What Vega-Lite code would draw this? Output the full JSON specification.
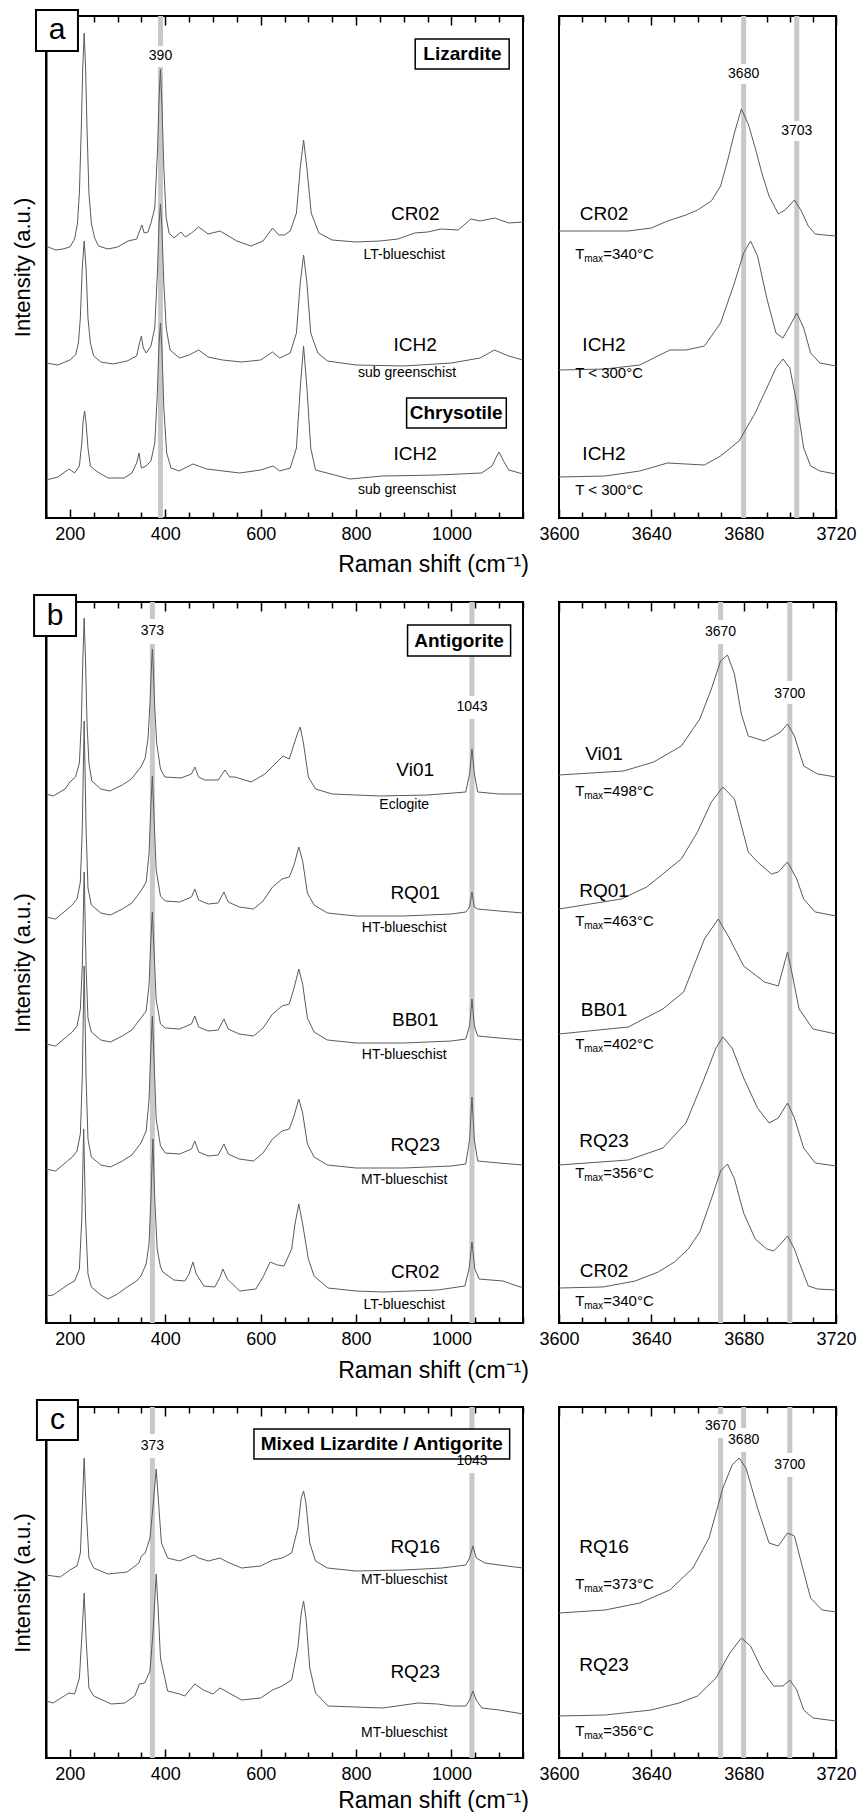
{
"$schema": "https://vega.github.io/schema/vega-lite/v6.json",
"background": "white",
"padding": {"left": 10, "top": 8, "right": 5, "bottom": 40},
"config": {
  "view": {"stroke": "black", "strokeWidth": 2},
  "axis": {"grid": false, "labelFont": "Liberation Sans", "titleFont": "Liberation Sans", "labelColor": "black", "titleColor": "black", "tickColor": "black"},
  "text": {"font": "Liberation Sans", "color": "black"}
},
"datasets": {
  "aL_rules": [{"x":390,"y1":472,"y2":502},{"x":390,"y1":0,"y2":451}],
  "aR_rules": [{"x":3680,"y1":454,"y2":502},{"x":3680,"y1":0,"y2":434},{"x":3703,"y1":397,"y2":502},{"x":3703,"y1":0,"y2":377}],
  "bL_rules": [{"x":373,"y1":704,"y2":721},{"x":373,"y1":0,"y2":679},{"x":1043,"y1":627,"y2":721},{"x":1043,"y1":0,"y2":604}],
  "bR_rules": [{"x":3670,"y1":703,"y2":721},{"x":3670,"y1":0,"y2":679},{"x":3700,"y1":642,"y2":721},{"x":3700,"y1":0,"y2":619}],
  "cL_rules": [{"x":373,"y1":324,"y2":351},{"x":373,"y1":0,"y2":300},{"x":1043,"y1":309,"y2":351},{"x":1043,"y1":0,"y2":285}],
  "cR_rules": [{"x":3670,"y1":344,"y2":351},{"x":3670,"y1":0,"y2":320},{"x":3680,"y1":330,"y2":351},{"x":3680,"y1":0,"y2":306},{"x":3700,"y1":305,"y2":351},{"x":3700,"y1":0,"y2":281}],
  "aL_lines": [
    {"s":"CR02","x":150,"y":272},{"s":"CR02","x":160,"y":270},{"s":"CR02","x":170,"y":268},{"s":"CR02","x":185,"y":269},{"s":"CR02","x":200,"y":271},{"s":"CR02","x":210,"y":279},{"s":"CR02","x":216,"y":295},{"s":"CR02","x":220,"y":325},{"s":"CR02","x":224,"y":390},{"s":"CR02","x":227,"y":450},{"s":"CR02","x":230,"y":485},{"s":"CR02","x":233,"y":450},{"s":"CR02","x":236,"y":390},{"s":"CR02","x":240,"y":325},{"s":"CR02","x":245,"y":295},{"s":"CR02","x":252,"y":280},{"s":"CR02","x":260,"y":272},{"s":"CR02","x":280,"y":269},{"s":"CR02","x":300,"y":271},{"s":"CR02","x":322,"y":277},{"s":"CR02","x":340,"y":279},{"s":"CR02","x":351,"y":293},{"s":"CR02","x":356,"y":285},{"s":"CR02","x":364,"y":286},{"s":"CR02","x":370,"y":295},{"s":"CR02","x":378,"y":310},{"s":"CR02","x":384,"y":370},{"s":"CR02","x":387,"y":420},{"s":"CR02","x":390,"y":449},{"s":"CR02","x":393,"y":415},{"s":"CR02","x":397,"y":350},{"s":"CR02","x":402,"y":300},{"s":"CR02","x":408,"y":285},{"s":"CR02","x":418,"y":280},{"s":"CR02","x":433,"y":286},{"s":"CR02","x":442,"y":281},{"s":"CR02","x":455,"y":285},{"s":"CR02","x":470,"y":291},{"s":"CR02","x":490,"y":284},{"s":"CR02","x":515,"y":287},{"s":"CR02","x":550,"y":277},{"s":"CR02","x":580,"y":272},{"s":"CR02","x":605,"y":277},{"s":"CR02","x":625,"y":290},{"s":"CR02","x":638,"y":283},{"s":"CR02","x":650,"y":283},{"s":"CR02","x":662,"y":287},{"s":"CR02","x":675,"y":305},{"s":"CR02","x":683,"y":350},{"s":"CR02","x":690,"y":378},{"s":"CR02","x":697,"y":350},{"s":"CR02","x":706,"y":305},{"s":"CR02","x":722,"y":285},{"s":"CR02","x":750,"y":278},{"s":"CR02","x":800,"y":276},{"s":"CR02","x":850,"y":277},{"s":"CR02","x":888,"y":279},{"s":"CR02","x":923,"y":285},{"s":"CR02","x":950,"y":286},{"s":"CR02","x":978,"y":289},{"s":"CR02","x":1014,"y":288},{"s":"CR02","x":1041,"y":299},{"s":"CR02","x":1060,"y":297},{"s":"CR02","x":1091,"y":300},{"s":"CR02","x":1120,"y":295},{"s":"CR02","x":1150,"y":296},
    {"s":"L","x":150,"y":155},{"s":"L","x":175,"y":153},{"s":"L","x":200,"y":158},{"s":"L","x":212,"y":163},{"s":"L","x":218,"y":175},{"s":"L","x":222,"y":200},{"s":"L","x":226,"y":250},{"s":"L","x":230,"y":277},{"s":"L","x":234,"y":250},{"s":"L","x":238,"y":200},{"s":"L","x":243,"y":175},{"s":"L","x":250,"y":162},{"s":"L","x":265,"y":156},{"s":"L","x":290,"y":154},{"s":"L","x":320,"y":157},{"s":"L","x":340,"y":162},{"s":"L","x":346,"y":175},{"s":"L","x":350,"y":182},{"s":"L","x":354,"y":170},{"s":"L","x":360,"y":165},{"s":"L","x":370,"y":172},{"s":"L","x":378,"y":190},{"s":"L","x":384,"y":250},{"s":"L","x":387,"y":295},{"s":"L","x":390,"y":314},{"s":"L","x":393,"y":290},{"s":"L","x":397,"y":235},{"s":"L","x":402,"y":190},{"s":"L","x":410,"y":168},{"s":"L","x":430,"y":160},{"s":"L","x":450,"y":163},{"s":"L","x":470,"y":168},{"s":"L","x":490,"y":161},{"s":"L","x":520,"y":158},{"s":"L","x":560,"y":156},{"s":"L","x":600,"y":158},{"s":"L","x":625,"y":166},{"s":"L","x":640,"y":160},{"s":"L","x":662,"y":165},{"s":"L","x":675,"y":185},{"s":"L","x":683,"y":235},{"s":"L","x":690,"y":263},{"s":"L","x":697,"y":235},{"s":"L","x":705,"y":185},{"s":"L","x":720,"y":165},{"s":"L","x":740,"y":157},{"s":"L","x":800,"y":153},{"s":"L","x":900,"y":152},{"s":"L","x":1000,"y":155},{"s":"L","x":1060,"y":160},{"s":"L","x":1090,"y":168},{"s":"L","x":1120,"y":162},{"s":"L","x":1150,"y":158},
    {"s":"C","x":150,"y":38},{"s":"C","x":175,"y":41},{"s":"C","x":198,"y":49},{"s":"C","x":210,"y":45},{"s":"C","x":220,"y":52},{"s":"C","x":225,"y":75},{"s":"C","x":228,"y":98},{"s":"C","x":231,"y":107},{"s":"C","x":234,"y":95},{"s":"C","x":238,"y":70},{"s":"C","x":243,"y":52},{"s":"C","x":255,"y":47},{"s":"C","x":280,"y":40},{"s":"C","x":314,"y":40},{"s":"C","x":330,"y":45},{"s":"C","x":340,"y":55},{"s":"C","x":345,"y":65},{"s":"C","x":350,"y":50},{"s":"C","x":360,"y":52},{"s":"C","x":370,"y":57},{"s":"C","x":378,"y":75},{"s":"C","x":383,"y":120},{"s":"C","x":387,"y":175},{"s":"C","x":390,"y":195},{"s":"C","x":393,"y":170},{"s":"C","x":397,"y":110},{"s":"C","x":403,"y":65},{"s":"C","x":412,"y":50},{"s":"C","x":429,"y":47},{"s":"C","x":458,"y":54},{"s":"C","x":487,"y":49},{"s":"C","x":556,"y":45},{"s":"C","x":600,"y":48},{"s":"C","x":626,"y":52},{"s":"C","x":640,"y":47},{"s":"C","x":662,"y":50},{"s":"C","x":675,"y":70},{"s":"C","x":683,"y":130},{"s":"C","x":690,"y":172},{"s":"C","x":697,"y":130},{"s":"C","x":705,"y":70},{"s":"C","x":715,"y":48},{"s":"C","x":787,"y":39},{"s":"C","x":856,"y":42},{"s":"C","x":971,"y":43},{"s":"C","x":1063,"y":45},{"s":"C","x":1085,"y":52},{"s":"C","x":1095,"y":62},{"s":"C","x":1100,"y":66},{"s":"C","x":1108,"y":58},{"s":"C","x":1120,"y":48},{"s":"C","x":1135,"y":46},{"s":"C","x":1150,"y":44}
  ],
  "aR_lines": [
    {"s":"CR02","x":3600,"y":287},{"s":"CR02","x":3615,"y":287},{"s":"CR02","x":3630,"y":287},{"s":"CR02","x":3640,"y":290},{"s":"CR02","x":3647,"y":297},{"s":"CR02","x":3655,"y":303},{"s":"CR02","x":3660,"y":308},{"s":"CR02","x":3666,"y":317},{"s":"CR02","x":3670,"y":332},{"s":"CR02","x":3673,"y":357},{"s":"CR02","x":3676,"y":385},{"s":"CR02","x":3679,"y":409},{"s":"CR02","x":3682,"y":394},{"s":"CR02","x":3685,"y":370},{"s":"CR02","x":3688,"y":344},{"s":"CR02","x":3691,"y":322},{"s":"CR02","x":3695,"y":304},{"s":"CR02","x":3698,"y":308},{"s":"CR02","x":3702,"y":318},{"s":"CR02","x":3705,"y":307},{"s":"CR02","x":3708,"y":292},{"s":"CR02","x":3711,"y":284},{"s":"CR02","x":3715,"y":283},{"s":"CR02","x":3720,"y":282},
    {"s":"L","x":3600,"y":148},{"s":"L","x":3620,"y":149},{"s":"L","x":3635,"y":153},{"s":"L","x":3648,"y":168},{"s":"L","x":3655,"y":168},{"s":"L","x":3663,"y":172},{"s":"L","x":3670,"y":195},{"s":"L","x":3676,"y":235},{"s":"L","x":3680,"y":265},{"s":"L","x":3683,"y":277},{"s":"L","x":3686,"y":262},{"s":"L","x":3690,"y":220},{"s":"L","x":3694,"y":185},{"s":"L","x":3697,"y":180},{"s":"L","x":3700,"y":192},{"s":"L","x":3703,"y":205},{"s":"L","x":3706,"y":190},{"s":"L","x":3709,"y":165},{"s":"L","x":3713,"y":155},{"s":"L","x":3720,"y":152},
    {"s":"C","x":3600,"y":41},{"s":"C","x":3620,"y":42},{"s":"C","x":3635,"y":47},{"s":"C","x":3647,"y":55},{"s":"C","x":3655,"y":54},{"s":"C","x":3663,"y":53},{"s":"C","x":3670,"y":62},{"s":"C","x":3678,"y":77},{"s":"C","x":3685,"y":105},{"s":"C","x":3690,"y":130},{"s":"C","x":3694,"y":150},{"s":"C","x":3697,"y":159},{"s":"C","x":3700,"y":150},{"s":"C","x":3703,"y":115},{"s":"C","x":3706,"y":70},{"s":"C","x":3709,"y":52},{"s":"C","x":3713,"y":47},{"s":"C","x":3720,"y":44}
  ],
  "bL_lines": [
    {"s":"Vi01","x":150,"y":529},{"s":"Vi01","x":165,"y":527},{"s":"Vi01","x":190,"y":534},{"s":"Vi01","x":200,"y":541},{"s":"Vi01","x":212,"y":546},{"s":"Vi01","x":220,"y":560},{"s":"Vi01","x":224,"y":600},{"s":"Vi01","x":227,"y":660},{"s":"Vi01","x":230,"y":705},{"s":"Vi01","x":233,"y":660},{"s":"Vi01","x":236,"y":600},{"s":"Vi01","x":240,"y":560},{"s":"Vi01","x":246,"y":542},{"s":"Vi01","x":265,"y":534},{"s":"Vi01","x":284,"y":532},{"s":"Vi01","x":310,"y":538},{"s":"Vi01","x":329,"y":544},{"s":"Vi01","x":349,"y":556},{"s":"Vi01","x":358,"y":565},{"s":"Vi01","x":364,"y":585},{"s":"Vi01","x":368,"y":620},{"s":"Vi01","x":371,"y":655},{"s":"Vi01","x":373,"y":674},{"s":"Vi01","x":375,"y":655},{"s":"Vi01","x":378,"y":615},{"s":"Vi01","x":382,"y":580},{"s":"Vi01","x":390,"y":554},{"s":"Vi01","x":399,"y":546},{"s":"Vi01","x":433,"y":545},{"s":"Vi01","x":455,"y":549},{"s":"Vi01","x":462,"y":556},{"s":"Vi01","x":470,"y":546},{"s":"Vi01","x":483,"y":543},{"s":"Vi01","x":511,"y":543},{"s":"Vi01","x":525,"y":553},{"s":"Vi01","x":535,"y":546},{"s":"Vi01","x":546,"y":546},{"s":"Vi01","x":580,"y":541},{"s":"Vi01","x":609,"y":549},{"s":"Vi01","x":630,"y":559},{"s":"Vi01","x":647,"y":567},{"s":"Vi01","x":660,"y":564},{"s":"Vi01","x":670,"y":579},{"s":"Vi01","x":677,"y":589},{"s":"Vi01","x":683,"y":596},{"s":"Vi01","x":690,"y":579},{"s":"Vi01","x":700,"y":546},{"s":"Vi01","x":715,"y":534},{"s":"Vi01","x":750,"y":529},{"s":"Vi01","x":850,"y":527},{"s":"Vi01","x":950,"y":528},{"s":"Vi01","x":1030,"y":531},{"s":"Vi01","x":1038,"y":549},{"s":"Vi01","x":1043,"y":574},{"s":"Vi01","x":1048,"y":549},{"s":"Vi01","x":1055,"y":531},{"s":"Vi01","x":1100,"y":529},{"s":"Vi01","x":1150,"y":529},
    {"s":"RQ01","x":150,"y":406},{"s":"RQ01","x":170,"y":404},{"s":"RQ01","x":195,"y":414},{"s":"RQ01","x":205,"y":418},{"s":"RQ01","x":215,"y":424},{"s":"RQ01","x":222,"y":441},{"s":"RQ01","x":226,"y":494},{"s":"RQ01","x":230,"y":602},{"s":"RQ01","x":234,"y":494},{"s":"RQ01","x":238,"y":435},{"s":"RQ01","x":245,"y":418},{"s":"RQ01","x":265,"y":410},{"s":"RQ01","x":285,"y":408},{"s":"RQ01","x":310,"y":414},{"s":"RQ01","x":330,"y":420},{"s":"RQ01","x":349,"y":432},{"s":"RQ01","x":360,"y":441},{"s":"RQ01","x":366,"y":469},{"s":"RQ01","x":370,"y":519},{"s":"RQ01","x":373,"y":547},{"s":"RQ01","x":376,"y":512},{"s":"RQ01","x":381,"y":453},{"s":"RQ01","x":390,"y":427},{"s":"RQ01","x":400,"y":422},{"s":"RQ01","x":430,"y":421},{"s":"RQ01","x":455,"y":426},{"s":"RQ01","x":462,"y":434},{"s":"RQ01","x":470,"y":423},{"s":"RQ01","x":490,"y":419},{"s":"RQ01","x":511,"y":420},{"s":"RQ01","x":523,"y":431},{"s":"RQ01","x":532,"y":421},{"s":"RQ01","x":555,"y":416},{"s":"RQ01","x":585,"y":414},{"s":"RQ01","x":605,"y":422},{"s":"RQ01","x":625,"y":436},{"s":"RQ01","x":645,"y":444},{"s":"RQ01","x":660,"y":446},{"s":"RQ01","x":670,"y":458},{"s":"RQ01","x":680,"y":476},{"s":"RQ01","x":688,"y":462},{"s":"RQ01","x":698,"y":430},{"s":"RQ01","x":712,"y":418},{"s":"RQ01","x":740,"y":410},{"s":"RQ01","x":800,"y":407},{"s":"RQ01","x":900,"y":407},{"s":"RQ01","x":1000,"y":409},{"s":"RQ01","x":1030,"y":411},{"s":"RQ01","x":1038,"y":416},{"s":"RQ01","x":1043,"y":431},{"s":"RQ01","x":1048,"y":416},{"s":"RQ01","x":1055,"y":414},{"s":"RQ01","x":1100,"y":412},{"s":"RQ01","x":1150,"y":410},
    {"s":"BB01","x":150,"y":279},{"s":"BB01","x":170,"y":277},{"s":"BB01","x":195,"y":287},{"s":"BB01","x":205,"y":291},{"s":"BB01","x":215,"y":297},{"s":"BB01","x":222,"y":314},{"s":"BB01","x":226,"y":356},{"s":"BB01","x":230,"y":451},{"s":"BB01","x":234,"y":356},{"s":"BB01","x":238,"y":305},{"s":"BB01","x":245,"y":291},{"s":"BB01","x":265,"y":283},{"s":"BB01","x":285,"y":281},{"s":"BB01","x":310,"y":287},{"s":"BB01","x":330,"y":293},{"s":"BB01","x":349,"y":305},{"s":"BB01","x":360,"y":312},{"s":"BB01","x":366,"y":338},{"s":"BB01","x":370,"y":385},{"s":"BB01","x":373,"y":411},{"s":"BB01","x":376,"y":378},{"s":"BB01","x":381,"y":323},{"s":"BB01","x":390,"y":299},{"s":"BB01","x":400,"y":295},{"s":"BB01","x":430,"y":294},{"s":"BB01","x":455,"y":299},{"s":"BB01","x":462,"y":307},{"s":"BB01","x":470,"y":296},{"s":"BB01","x":490,"y":292},{"s":"BB01","x":511,"y":293},{"s":"BB01","x":523,"y":304},{"s":"BB01","x":532,"y":294},{"s":"BB01","x":555,"y":289},{"s":"BB01","x":585,"y":287},{"s":"BB01","x":605,"y":295},{"s":"BB01","x":625,"y":309},{"s":"BB01","x":645,"y":317},{"s":"BB01","x":660,"y":319},{"s":"BB01","x":670,"y":335},{"s":"BB01","x":680,"y":354},{"s":"BB01","x":688,"y":339},{"s":"BB01","x":698,"y":305},{"s":"BB01","x":712,"y":291},{"s":"BB01","x":740,"y":283},{"s":"BB01","x":800,"y":280},{"s":"BB01","x":900,"y":280},{"s":"BB01","x":1000,"y":282},{"s":"BB01","x":1030,"y":284},{"s":"BB01","x":1038,"y":297},{"s":"BB01","x":1043,"y":324},{"s":"BB01","x":1048,"y":297},{"s":"BB01","x":1055,"y":287},{"s":"BB01","x":1100,"y":285},{"s":"BB01","x":1150,"y":283},
    {"s":"RQ23","x":150,"y":154},{"s":"RQ23","x":170,"y":152},{"s":"RQ23","x":195,"y":162},{"s":"RQ23","x":205,"y":166},{"s":"RQ23","x":215,"y":172},{"s":"RQ23","x":222,"y":189},{"s":"RQ23","x":226,"y":245},{"s":"RQ23","x":230,"y":357},{"s":"RQ23","x":234,"y":245},{"s":"RQ23","x":238,"y":184},{"s":"RQ23","x":245,"y":166},{"s":"RQ23","x":265,"y":158},{"s":"RQ23","x":285,"y":156},{"s":"RQ23","x":310,"y":162},{"s":"RQ23","x":330,"y":168},{"s":"RQ23","x":349,"y":180},{"s":"RQ23","x":360,"y":192},{"s":"RQ23","x":366,"y":223},{"s":"RQ23","x":370,"y":276},{"s":"RQ23","x":373,"y":307},{"s":"RQ23","x":376,"y":269},{"s":"RQ23","x":381,"y":204},{"s":"RQ23","x":390,"y":177},{"s":"RQ23","x":400,"y":170},{"s":"RQ23","x":430,"y":169},{"s":"RQ23","x":455,"y":174},{"s":"RQ23","x":462,"y":182},{"s":"RQ23","x":470,"y":171},{"s":"RQ23","x":490,"y":167},{"s":"RQ23","x":511,"y":168},{"s":"RQ23","x":523,"y":179},{"s":"RQ23","x":532,"y":169},{"s":"RQ23","x":555,"y":164},{"s":"RQ23","x":585,"y":162},{"s":"RQ23","x":605,"y":170},{"s":"RQ23","x":625,"y":184},{"s":"RQ23","x":645,"y":192},{"s":"RQ23","x":660,"y":194},{"s":"RQ23","x":670,"y":207},{"s":"RQ23","x":680,"y":224},{"s":"RQ23","x":688,"y":210},{"s":"RQ23","x":698,"y":179},{"s":"RQ23","x":712,"y":166},{"s":"RQ23","x":740,"y":158},{"s":"RQ23","x":800,"y":155},{"s":"RQ23","x":900,"y":155},{"s":"RQ23","x":1000,"y":157},{"s":"RQ23","x":1030,"y":159},{"s":"RQ23","x":1038,"y":183},{"s":"RQ23","x":1043,"y":226},{"s":"RQ23","x":1048,"y":183},{"s":"RQ23","x":1055,"y":162},{"s":"RQ23","x":1100,"y":160},{"s":"RQ23","x":1150,"y":158},
    {"s":"CR02","x":150,"y":27},{"s":"CR02","x":165,"y":28},{"s":"CR02","x":198,"y":39},{"s":"CR02","x":210,"y":42},{"s":"CR02","x":220,"y":54},{"s":"CR02","x":225,"y":104},{"s":"CR02","x":229,"y":194},{"s":"CR02","x":233,"y":104},{"s":"CR02","x":238,"y":49},{"s":"CR02","x":245,"y":36},{"s":"CR02","x":265,"y":28},{"s":"CR02","x":280,"y":24},{"s":"CR02","x":300,"y":29},{"s":"CR02","x":320,"y":36},{"s":"CR02","x":340,"y":42},{"s":"CR02","x":349,"y":47},{"s":"CR02","x":360,"y":59},{"s":"CR02","x":366,"y":79},{"s":"CR02","x":370,"y":124},{"s":"CR02","x":374,"y":184},{"s":"CR02","x":378,"y":124},{"s":"CR02","x":383,"y":74},{"s":"CR02","x":390,"y":56},{"s":"CR02","x":395,"y":51},{"s":"CR02","x":418,"y":43},{"s":"CR02","x":441,"y":42},{"s":"CR02","x":450,"y":49},{"s":"CR02","x":458,"y":61},{"s":"CR02","x":465,"y":49},{"s":"CR02","x":481,"y":37},{"s":"CR02","x":504,"y":36},{"s":"CR02","x":515,"y":46},{"s":"CR02","x":521,"y":54},{"s":"CR02","x":530,"y":44},{"s":"CR02","x":556,"y":32},{"s":"CR02","x":590,"y":34},{"s":"CR02","x":605,"y":46},{"s":"CR02","x":620,"y":61},{"s":"CR02","x":635,"y":58},{"s":"CR02","x":649,"y":57},{"s":"CR02","x":665,"y":74},{"s":"CR02","x":672,"y":99},{"s":"CR02","x":680,"y":119},{"s":"CR02","x":688,"y":99},{"s":"CR02","x":700,"y":64},{"s":"CR02","x":712,"y":47},{"s":"CR02","x":741,"y":35},{"s":"CR02","x":800,"y":32},{"s":"CR02","x":856,"y":31},{"s":"CR02","x":971,"y":33},{"s":"CR02","x":1028,"y":37},{"s":"CR02","x":1037,"y":54},{"s":"CR02","x":1043,"y":81},{"s":"CR02","x":1049,"y":54},{"s":"CR02","x":1058,"y":44},{"s":"CR02","x":1108,"y":42},{"s":"CR02","x":1144,"y":36},{"s":"CR02","x":1150,"y":36}
  ],
  "bR_lines": [
    {"s":"Vi01","x":3600,"y":548},{"s":"Vi01","x":3628,"y":552},{"s":"Vi01","x":3641,"y":561},{"s":"Vi01","x":3653,"y":577},{"s":"Vi01","x":3661,"y":604},{"s":"Vi01","x":3666,"y":634},{"s":"Vi01","x":3670,"y":662},{"s":"Vi01","x":3673,"y":668},{"s":"Vi01","x":3676,"y":649},{"s":"Vi01","x":3679,"y":609},{"s":"Vi01","x":3682,"y":587},{"s":"Vi01","x":3689,"y":582},{"s":"Vi01","x":3693,"y":587},{"s":"Vi01","x":3696,"y":591},{"s":"Vi01","x":3699,"y":599},{"s":"Vi01","x":3702,"y":587},{"s":"Vi01","x":3706,"y":557},{"s":"Vi01","x":3712,"y":549},{"s":"Vi01","x":3720,"y":546},
    {"s":"RQ01","x":3600,"y":414},{"s":"RQ01","x":3627,"y":424},{"s":"RQ01","x":3638,"y":436},{"s":"RQ01","x":3653,"y":464},{"s":"RQ01","x":3660,"y":491},{"s":"RQ01","x":3666,"y":521},{"s":"RQ01","x":3671,"y":536},{"s":"RQ01","x":3676,"y":524},{"s":"RQ01","x":3682,"y":471},{"s":"RQ01","x":3686,"y":461},{"s":"RQ01","x":3692,"y":449},{"s":"RQ01","x":3695,"y":451},{"s":"RQ01","x":3699,"y":461},{"s":"RQ01","x":3703,"y":444},{"s":"RQ01","x":3706,"y":424},{"s":"RQ01","x":3711,"y":411},{"s":"RQ01","x":3720,"y":407},
    {"s":"BB01","x":3600,"y":289},{"s":"BB01","x":3630,"y":296},{"s":"BB01","x":3645,"y":314},{"s":"BB01","x":3654,"y":331},{"s":"BB01","x":3663,"y":384},{"s":"BB01","x":3669,"y":404},{"s":"BB01","x":3674,"y":384},{"s":"BB01","x":3680,"y":357},{"s":"BB01","x":3689,"y":341},{"s":"BB01","x":3695,"y":337},{"s":"BB01","x":3699,"y":371},{"s":"BB01","x":3701,"y":349},{"s":"BB01","x":3704,"y":314},{"s":"BB01","x":3710,"y":294},{"s":"BB01","x":3720,"y":289},
    {"s":"RQ23","x":3600,"y":158},{"s":"RQ23","x":3630,"y":163},{"s":"RQ23","x":3645,"y":175},{"s":"RQ23","x":3655,"y":200},{"s":"RQ23","x":3663,"y":245},{"s":"RQ23","x":3668,"y":275},{"s":"RQ23","x":3671,"y":286},{"s":"RQ23","x":3675,"y":275},{"s":"RQ23","x":3680,"y":245},{"s":"RQ23","x":3686,"y":215},{"s":"RQ23","x":3691,"y":200},{"s":"RQ23","x":3695,"y":205},{"s":"RQ23","x":3699,"y":220},{"s":"RQ23","x":3702,"y":205},{"s":"RQ23","x":3706,"y":175},{"s":"RQ23","x":3711,"y":160},{"s":"RQ23","x":3720,"y":157},
    {"s":"CR02","x":3600,"y":35},{"s":"CR02","x":3619,"y":36},{"s":"CR02","x":3633,"y":42},{"s":"CR02","x":3643,"y":51},{"s":"CR02","x":3650,"y":61},{"s":"CR02","x":3656,"y":74},{"s":"CR02","x":3661,"y":91},{"s":"CR02","x":3666,"y":124},{"s":"CR02","x":3670,"y":152},{"s":"CR02","x":3673,"y":159},{"s":"CR02","x":3676,"y":144},{"s":"CR02","x":3680,"y":110},{"s":"CR02","x":3685,"y":84},{"s":"CR02","x":3690,"y":74},{"s":"CR02","x":3693,"y":72},{"s":"CR02","x":3696,"y":79},{"s":"CR02","x":3699,"y":87},{"s":"CR02","x":3702,"y":74},{"s":"CR02","x":3704,"y":61},{"s":"CR02","x":3708,"y":37},{"s":"CR02","x":3712,"y":34},{"s":"CR02","x":3720,"y":33}
  ],
  "cL_lines": [
    {"s":"RQ16","x":150,"y":183},{"s":"RQ16","x":180,"y":181},{"s":"RQ16","x":200,"y":188},{"s":"RQ16","x":215,"y":192},{"s":"RQ16","x":222,"y":205},{"s":"RQ16","x":226,"y":250},{"s":"RQ16","x":230,"y":300},{"s":"RQ16","x":234,"y":250},{"s":"RQ16","x":240,"y":200},{"s":"RQ16","x":250,"y":190},{"s":"RQ16","x":280,"y":184},{"s":"RQ16","x":320,"y":186},{"s":"RQ16","x":345,"y":195},{"s":"RQ16","x":350,"y":202},{"s":"RQ16","x":358,"y":205},{"s":"RQ16","x":368,"y":220},{"s":"RQ16","x":375,"y":255},{"s":"RQ16","x":381,"y":289},{"s":"RQ16","x":386,"y":255},{"s":"RQ16","x":392,"y":215},{"s":"RQ16","x":405,"y":200},{"s":"RQ16","x":430,"y":197},{"s":"RQ16","x":460,"y":203},{"s":"RQ16","x":470,"y":200},{"s":"RQ16","x":490,"y":197},{"s":"RQ16","x":515,"y":200},{"s":"RQ16","x":530,"y":196},{"s":"RQ16","x":560,"y":190},{"s":"RQ16","x":600,"y":192},{"s":"RQ16","x":625,"y":198},{"s":"RQ16","x":645,"y":200},{"s":"RQ16","x":665,"y":205},{"s":"RQ16","x":678,"y":230},{"s":"RQ16","x":685,"y":260},{"s":"RQ16","x":690,"y":267},{"s":"RQ16","x":695,"y":255},{"s":"RQ16","x":703,"y":215},{"s":"RQ16","x":715,"y":197},{"s":"RQ16","x":740,"y":190},{"s":"RQ16","x":800,"y":187},{"s":"RQ16","x":900,"y":188},{"s":"RQ16","x":980,"y":190},{"s":"RQ16","x":1030,"y":193},{"s":"RQ16","x":1038,"y":200},{"s":"RQ16","x":1045,"y":212},{"s":"RQ16","x":1052,"y":200},{"s":"RQ16","x":1070,"y":195},{"s":"RQ16","x":1100,"y":193},{"s":"RQ16","x":1150,"y":190},
    {"s":"RQ23","x":150,"y":57},{"s":"RQ23","x":165,"y":55},{"s":"RQ23","x":198,"y":65},{"s":"RQ23","x":210,"y":64},{"s":"RQ23","x":220,"y":80},{"s":"RQ23","x":225,"y":120},{"s":"RQ23","x":230,"y":165},{"s":"RQ23","x":234,"y":120},{"s":"RQ23","x":240,"y":70},{"s":"RQ23","x":250,"y":62},{"s":"RQ23","x":287,"y":54},{"s":"RQ23","x":315,"y":55},{"s":"RQ23","x":336,"y":62},{"s":"RQ23","x":346,"y":74},{"s":"RQ23","x":357,"y":75},{"s":"RQ23","x":368,"y":87},{"s":"RQ23","x":375,"y":130},{"s":"RQ23","x":381,"y":184},{"s":"RQ23","x":385,"y":150},{"s":"RQ23","x":390,"y":100},{"s":"RQ23","x":405,"y":67},{"s":"RQ23","x":430,"y":64},{"s":"RQ23","x":441,"y":62},{"s":"RQ23","x":462,"y":74},{"s":"RQ23","x":480,"y":68},{"s":"RQ23","x":500,"y":64},{"s":"RQ23","x":515,"y":70},{"s":"RQ23","x":530,"y":66},{"s":"RQ23","x":560,"y":58},{"s":"RQ23","x":600,"y":60},{"s":"RQ23","x":625,"y":68},{"s":"RQ23","x":645,"y":72},{"s":"RQ23","x":665,"y":78},{"s":"RQ23","x":678,"y":110},{"s":"RQ23","x":685,"y":145},{"s":"RQ23","x":690,"y":157},{"s":"RQ23","x":695,"y":140},{"s":"RQ23","x":703,"y":90},{"s":"RQ23","x":715,"y":65},{"s":"RQ23","x":741,"y":52},{"s":"RQ23","x":856,"y":50},{"s":"RQ23","x":930,"y":55},{"s":"RQ23","x":971,"y":54},{"s":"RQ23","x":1000,"y":52},{"s":"RQ23","x":1030,"y":52},{"s":"RQ23","x":1038,"y":58},{"s":"RQ23","x":1045,"y":67},{"s":"RQ23","x":1052,"y":58},{"s":"RQ23","x":1064,"y":50},{"s":"RQ23","x":1100,"y":48},{"s":"RQ23","x":1150,"y":44}
  ],
  "cR_lines": [
    {"s":"RQ16","x":3600,"y":145},{"s":"RQ16","x":3620,"y":148},{"s":"RQ16","x":3635,"y":155},{"s":"RQ16","x":3648,"y":168},{"s":"RQ16","x":3658,"y":190},{"s":"RQ16","x":3665,"y":220},{"s":"RQ16","x":3671,"y":270},{"s":"RQ16","x":3675,"y":293},{"s":"RQ16","x":3678,"y":300},{"s":"RQ16","x":3681,"y":290},{"s":"RQ16","x":3686,"y":250},{"s":"RQ16","x":3691,"y":215},{"s":"RQ16","x":3695,"y":212},{"s":"RQ16","x":3699,"y":225},{"s":"RQ16","x":3702,"y":222},{"s":"RQ16","x":3705,"y":195},{"s":"RQ16","x":3709,"y":160},{"s":"RQ16","x":3714,"y":148},{"s":"RQ16","x":3720,"y":146},
    {"s":"RQ23","x":3600,"y":42},{"s":"RQ23","x":3620,"y":43},{"s":"RQ23","x":3640,"y":48},{"s":"RQ23","x":3652,"y":55},{"s":"RQ23","x":3660,"y":62},{"s":"RQ23","x":3668,"y":80},{"s":"RQ23","x":3674,"y":105},{"s":"RQ23","x":3679,"y":120},{"s":"RQ23","x":3683,"y":112},{"s":"RQ23","x":3688,"y":88},{"s":"RQ23","x":3693,"y":72},{"s":"RQ23","x":3697,"y":72},{"s":"RQ23","x":3700,"y":78},{"s":"RQ23","x":3703,"y":68},{"s":"RQ23","x":3706,"y":48},{"s":"RQ23","x":3710,"y":40},{"s":"RQ23","x":3720,"y":37}
  ],
  "aL_names": [{"x":924,"y":304,"t":"CR02"},{"x":924,"y":173,"t":"ICH2"},{"x":924,"y":64,"t":"ICH2"}],
  "aL_subs": [{"x":901,"y":263,"t":"LT-blueschist"},{"x":907,"y":145,"t":"sub greenschist"},{"x":907,"y":28,"t":"sub greenschist"}],
  "aL_peaks": [{"x":390,"y":462,"t":"390"}],
  "aL_boxes": [{"x1":924,"x2":1121,"y1":449,"y2":479,"t":"Lizardite","xc":1023,"yc":464},{"x1":906,"x2":1115,"y1":90,"y2":120,"t":"Chrysotile","xc":1010,"yc":105}],
  "aL_letter": [{"x1":129,"x2":217,"y1":467,"y2":508,"t":"a","xc":173,"yc":488}],
  "aR_names": [{"x":3619.5,"y":304,"t":"CR02"},{"x":3619.5,"y":173,"t":"ICH2"},{"x":3619.5,"y":64,"t":"ICH2"}],
  "aR_subs": [{"x":3607,"y":145,"t":"T < 300°C"},{"x":3607,"y":28,"t":"T < 300°C"}],
  "aR_T": [{"x":3607,"y":264,"v":"=340°C"}],
  "aR_peaks": [{"x":3680,"y":444,"t":"3680"},{"x":3703,"y":387,"t":"3703"}],
  "bL_names": [{"x":924,"y":553,"t":"Vi01"},{"x":924,"y":430,"t":"RQ01"},{"x":924,"y":303,"t":"BB01"},{"x":924,"y":178,"t":"RQ23"},{"x":924,"y":51,"t":"CR02"}],
  "bL_subs": [{"x":901,"y":518,"t":"Eclogite"},{"x":901,"y":395,"t":"HT-blueschist"},{"x":901,"y":268,"t":"HT-blueschist"},{"x":901,"y":143,"t":"MT-blueschist"},{"x":901,"y":18,"t":"LT-blueschist"}],
  "bL_peaks": [{"x":373,"y":692,"t":"373"},{"x":1043,"y":616,"t":"1043"}],
  "bL_boxes": [{"x1":908,"x2":1124,"y1":667,"y2":698,"t":"Antigorite","xc":1016,"yc":682.5}],
  "bL_letter": [{"x1":125,"x2":213,"y1":687,"y2":728,"t":"b","xc":169,"yc":707.5}],
  "bR_names": [{"x":3619.5,"y":569,"t":"Vi01"},{"x":3619.5,"y":432,"t":"RQ01"},{"x":3619.5,"y":313,"t":"BB01"},{"x":3619.5,"y":182,"t":"RQ23"},{"x":3619.5,"y":52,"t":"CR02"}],
  "bR_T": [{"x":3607,"y":532,"v":"=498°C"},{"x":3607,"y":402,"v":"=463°C"},{"x":3607,"y":279,"v":"=402°C"},{"x":3607,"y":150,"v":"=356°C"},{"x":3607,"y":22,"v":"=340°C"}],
  "bR_peaks": [{"x":3670,"y":691,"t":"3670"},{"x":3700,"y":629,"t":"3700"}],
  "cL_names": [{"x":924,"y":211,"t":"RQ16"},{"x":924,"y":86,"t":"RQ23"}],
  "cL_subs": [{"x":901,"y":178,"t":"MT-blueschist"},{"x":901,"y":25,"t":"MT-blueschist"}],
  "cL_peaks": [{"x":373,"y":312,"t":"373"},{"x":1043,"y":297,"t":"1043"}],
  "cL_boxes": [{"x1":586,"x2":1122,"y1":299,"y2":329,"t":"Mixed Lizardite / Antigorite","xc":854,"yc":314}],
  "cL_letter": [{"x1":131,"x2":217,"y1":318,"y2":358,"t":"c","xc":174,"yc":338}],
  "cR_names": [{"x":3619.5,"y":211,"t":"RQ16"},{"x":3619.5,"y":93,"t":"RQ23"}],
  "cR_T": [{"x":3607,"y":174,"v":"=373°C"},{"x":3607,"y":27,"v":"=356°C"}],
  "cR_peaks": [{"x":3670,"y":332,"t":"3670"},{"x":3680,"y":318,"t":"3680"},{"x":3700,"y":293,"t":"3700"}]
},
"columns": 2,
"spacing": {"row": 84, "column": 36},
"bounds": "flush",
"concat": [
  {
   "width": 477, "height": 502,
   "resolve": {"axis": {"x": "independent"}},
   "layer": [
    {"data": {"name": "aL_rules"}, "mark": {"type": "rule", "color": "#c8c8c8", "strokeWidth": 5},
     "encoding": {
      "x": {"field": "x", "type": "quantitative", "scale": {"domain": [150, 1150], "nice": false, "zero": false},
            "axis": {"orient": "top", "values": [150,200,250,300,350,400,450,500,550,600,650,700,750,800,850,900,950,1000,1050,1100,1150], "labels": false, "title": null, "domain": false, "tickWidth": 1.5, "tickSize": {"condition": {"test": "datum.value % 200 === 0", "value": -9}, "value": -6}}},
      "y": {"field": "y1", "type": "quantitative", "scale": {"domain": [0, 502], "nice": false, "zero": false}, "axis": {"title": "Intensity (a.u.)", "ticks": false, "labels": false, "domain": true, "domainColor": "black", "domainWidth": 2, "titleFontSize": 22, "titleFontWeight": "normal", "titlePadding": 12}},
      "y2": {"field": "y2"}}},
    {"data": {"name": "aL_lines"}, "mark": {"type": "line", "color": "#5a5a5a", "strokeWidth": 1, "clip": true},
     "encoding": {
      "x": {"field": "x", "type": "quantitative", "scale": {"domain": [150, 1150], "nice": false, "zero": false},
            "axis": {"orient": "bottom", "values": [150,200,250,300,350,400,450,500,550,600,650,700,750,800,850,900,950,1000,1050,1100,1150], "format": "d", "labelExpr": "datum.value % 200 === 0 ? datum.label : ''", "labelFontSize": 18, "labelPadding": 16, "labelFlush": false, "labelOverlap": false, "domain": false, "tickWidth": 1.5, "tickSize": {"condition": {"test": "datum.value % 200 === 0", "value": -9}, "value": -6},
                     "title": "Raman shift (cm⁻¹)", "titleFontSize": 23, "titleFontWeight": "normal", "titleX": 387, "titleY": 46, "titleBaseline": "middle", "titleAlign": "center"}},
      "y": {"field": "y", "type": "quantitative", "scale": {"domain": [0, 502], "nice": false, "zero": false}, "axis": {"title": "Intensity (a.u.)", "ticks": false, "labels": false, "domain": true, "domainColor": "black", "domainWidth": 2, "titleFontSize": 22, "titleFontWeight": "normal", "titlePadding": 12}},
      "detail": {"field": "s"}}},
    {"data": {"name": "aL_boxes"}, "mark": {"type": "rect", "fill": "white", "stroke": "black", "strokeWidth": 1.5},
     "encoding": {"x": {"field": "x1", "type": "quantitative", "scale": {"domain": [150, 1150], "nice": false, "zero": false}, "axis": null}, "x2": {"field": "x2"},
                  "y": {"field": "y1", "type": "quantitative", "scale": {"domain": [0, 502], "nice": false, "zero": false}, "axis": {"title": "Intensity (a.u.)", "ticks": false, "labels": false, "domain": true, "domainColor": "black", "domainWidth": 2, "titleFontSize": 22, "titleFontWeight": "normal", "titlePadding": 12}}, "y2": {"field": "y2"}}},
    {"data": {"name": "aL_boxes"}, "mark": {"type": "text", "fontWeight": "bold", "fontSize": 19},
     "encoding": {"x": {"field": "xc", "type": "quantitative", "scale": {"domain": [150, 1150], "nice": false, "zero": false}, "axis": null},
                  "y": {"field": "yc", "type": "quantitative", "scale": {"domain": [0, 502], "nice": false, "zero": false}, "axis": {"title": "Intensity (a.u.)", "ticks": false, "labels": false, "domain": true, "domainColor": "black", "domainWidth": 2, "titleFontSize": 22, "titleFontWeight": "normal", "titlePadding": 12}}, "text": {"field": "t"}}},
    {"data": {"name": "aL_letter"}, "mark": {"type": "rect", "fill": "white", "stroke": "black", "strokeWidth": 2},
     "encoding": {"x": {"field": "x1", "type": "quantitative", "scale": {"domain": [150, 1150], "nice": false, "zero": false}, "axis": null}, "x2": {"field": "x2"},
                  "y": {"field": "y1", "type": "quantitative", "scale": {"domain": [0, 502], "nice": false, "zero": false}, "axis": {"title": "Intensity (a.u.)", "ticks": false, "labels": false, "domain": true, "domainColor": "black", "domainWidth": 2, "titleFontSize": 22, "titleFontWeight": "normal", "titlePadding": 12}}, "y2": {"field": "y2"}}},
    {"data": {"name": "aL_letter"}, "mark": {"type": "text", "fontSize": 30},
     "encoding": {"x": {"field": "xc", "type": "quantitative", "scale": {"domain": [150, 1150], "nice": false, "zero": false}, "axis": null},
                  "y": {"field": "yc", "type": "quantitative", "scale": {"domain": [0, 502], "nice": false, "zero": false}, "axis": {"title": "Intensity (a.u.)", "ticks": false, "labels": false, "domain": true, "domainColor": "black", "domainWidth": 2, "titleFontSize": 22, "titleFontWeight": "normal", "titlePadding": 12}}, "text": {"field": "t"}}},
    {"data": {"name": "aL_names"}, "mark": {"type": "text", "fontSize": 19},
     "encoding": {"x": {"field": "x", "type": "quantitative", "scale": {"domain": [150, 1150], "nice": false, "zero": false}, "axis": null},
                  "y": {"field": "y", "type": "quantitative", "scale": {"domain": [0, 502], "nice": false, "zero": false}, "axis": {"title": "Intensity (a.u.)", "ticks": false, "labels": false, "domain": true, "domainColor": "black", "domainWidth": 2, "titleFontSize": 22, "titleFontWeight": "normal", "titlePadding": 12}}, "text": {"field": "t"}}},
    {"data": {"name": "aL_subs"}, "mark": {"type": "text", "fontSize": 14},
     "encoding": {"x": {"field": "x", "type": "quantitative", "scale": {"domain": [150, 1150], "nice": false, "zero": false}, "axis": null},
                  "y": {"field": "y", "type": "quantitative", "scale": {"domain": [0, 502], "nice": false, "zero": false}, "axis": {"title": "Intensity (a.u.)", "ticks": false, "labels": false, "domain": true, "domainColor": "black", "domainWidth": 2, "titleFontSize": 22, "titleFontWeight": "normal", "titlePadding": 12}}, "text": {"field": "t"}}},
    {"data": {"name": "aL_peaks"}, "mark": {"type": "text", "fontSize": 14},
     "encoding": {"x": {"field": "x", "type": "quantitative", "scale": {"domain": [150, 1150], "nice": false, "zero": false}, "axis": null},
                  "y": {"field": "y", "type": "quantitative", "scale": {"domain": [0, 502], "nice": false, "zero": false}, "axis": {"title": "Intensity (a.u.)", "ticks": false, "labels": false, "domain": true, "domainColor": "black", "domainWidth": 2, "titleFontSize": 22, "titleFontWeight": "normal", "titlePadding": 12}}, "text": {"field": "t"}}}
   ]
  },
  {
   "width": 277, "height": 502,
   "resolve": {"axis": {"x": "independent"}},
   "layer": [
    {"data": {"name": "aR_rules"}, "mark": {"type": "rule", "color": "#c8c8c8", "strokeWidth": 5},
     "encoding": {
      "x": {"field": "x", "type": "quantitative", "scale": {"domain": [3600, 3720], "nice": false, "zero": false},
            "axis": {"orient": "top", "values": [3600,3610,3620,3630,3640,3650,3660,3670,3680,3690,3700,3710,3720], "labels": false, "title": null, "domain": false, "tickWidth": 1.5, "tickSize": {"condition": {"test": "datum.value % 40 === 0", "value": -9}, "value": -6}}},
      "y": {"field": "y1", "type": "quantitative", "scale": {"domain": [0, 502], "nice": false, "zero": false}, "axis": null},
      "y2": {"field": "y2"}}},
    {"data": {"name": "aR_lines"}, "mark": {"type": "line", "color": "#5a5a5a", "strokeWidth": 1, "clip": true},
     "encoding": {
      "x": {"field": "x", "type": "quantitative", "scale": {"domain": [3600, 3720], "nice": false, "zero": false},
            "axis": {"orient": "bottom", "values": [3600,3610,3620,3630,3640,3650,3660,3670,3680,3690,3700,3710,3720], "format": "d", "labelExpr": "datum.value % 40 === 0 ? datum.label : ''", "labelFontSize": 18, "labelPadding": 16, "labelFlush": false, "labelOverlap": false, "domain": false, "tickWidth": 1.5, "tickSize": {"condition": {"test": "datum.value % 40 === 0", "value": -9}, "value": -6}, "title": null}},
      "y": {"field": "y", "type": "quantitative", "scale": {"domain": [0, 502], "nice": false, "zero": false}, "axis": null},
      "detail": {"field": "s"}}},
    {"data": {"name": "aR_names"}, "mark": {"type": "text", "fontSize": 19},
     "encoding": {"x": {"field": "x", "type": "quantitative", "scale": {"domain": [3600, 3720], "nice": false, "zero": false}, "axis": null},
                  "y": {"field": "y", "type": "quantitative", "scale": {"domain": [0, 502], "nice": false, "zero": false}, "axis": null}, "text": {"field": "t"}}},
    {"data": {"name": "aR_subs"}, "mark": {"type": "text", "fontSize": 15, "align": "left"},
     "encoding": {"x": {"field": "x", "type": "quantitative", "scale": {"domain": [3600, 3720], "nice": false, "zero": false}, "axis": null},
                  "y": {"field": "y", "type": "quantitative", "scale": {"domain": [0, 502], "nice": false, "zero": false}, "axis": null}, "text": {"field": "t"}}},
    {"data": {"name": "aR_T"}, "mark": {"type": "text", "fontSize": 15, "align": "left"},
     "encoding": {"x": {"field": "x", "type": "quantitative", "scale": {"domain": [3600, 3720], "nice": false, "zero": false}, "axis": null},
                  "y": {"field": "y", "type": "quantitative", "scale": {"domain": [0, 502], "nice": false, "zero": false}, "axis": null}, "text": {"value": "T"}}},
    {"data": {"name": "aR_T"}, "mark": {"type": "text", "fontSize": 10, "align": "left", "dx": 9, "dy": 5},
     "encoding": {"x": {"field": "x", "type": "quantitative", "scale": {"domain": [3600, 3720], "nice": false, "zero": false}, "axis": null},
                  "y": {"field": "y", "type": "quantitative", "scale": {"domain": [0, 502], "nice": false, "zero": false}, "axis": null}, "text": {"value": "max"}}},
    {"data": {"name": "aR_T"}, "mark": {"type": "text", "fontSize": 15, "align": "left", "dx": 28},
     "encoding": {"x": {"field": "x", "type": "quantitative", "scale": {"domain": [3600, 3720], "nice": false, "zero": false}, "axis": null},
                  "y": {"field": "y", "type": "quantitative", "scale": {"domain": [0, 502], "nice": false, "zero": false}, "axis": null}, "text": {"field": "v"}}},
    {"data": {"name": "aR_peaks"}, "mark": {"type": "text", "fontSize": 14},
     "encoding": {"x": {"field": "x", "type": "quantitative", "scale": {"domain": [3600, 3720], "nice": false, "zero": false}, "axis": null},
                  "y": {"field": "y", "type": "quantitative", "scale": {"domain": [0, 502], "nice": false, "zero": false}, "axis": null}, "text": {"field": "t"}}}
   ]
  },
  {
   "width": 477, "height": 721,
   "resolve": {"axis": {"x": "independent"}},
   "layer": [
    {"data": {"name": "bL_rules"}, "mark": {"type": "rule", "color": "#c8c8c8", "strokeWidth": 5},
     "encoding": {
      "x": {"field": "x", "type": "quantitative", "scale": {"domain": [150, 1150], "nice": false, "zero": false},
            "axis": {"orient": "top", "values": [150,200,250,300,350,400,450,500,550,600,650,700,750,800,850,900,950,1000,1050,1100,1150], "labels": false, "title": null, "domain": false, "tickWidth": 1.5, "tickSize": {"condition": {"test": "datum.value % 200 === 0", "value": -9}, "value": -6}}},
      "y": {"field": "y1", "type": "quantitative", "scale": {"domain": [0, 721], "nice": false, "zero": false}, "axis": {"title": "Intensity (a.u.)", "ticks": false, "labels": false, "domain": true, "domainColor": "black", "domainWidth": 2, "titleFontSize": 22, "titleFontWeight": "normal", "titlePadding": 12}},
      "y2": {"field": "y2"}}},
    {"data": {"name": "bL_lines"}, "mark": {"type": "line", "color": "#5a5a5a", "strokeWidth": 1, "clip": true},
     "encoding": {
      "x": {"field": "x", "type": "quantitative", "scale": {"domain": [150, 1150], "nice": false, "zero": false},
            "axis": {"orient": "bottom", "values": [150,200,250,300,350,400,450,500,550,600,650,700,750,800,850,900,950,1000,1050,1100,1150], "format": "d", "labelExpr": "datum.value % 200 === 0 ? datum.label : ''", "labelFontSize": 18, "labelPadding": 16, "labelFlush": false, "labelOverlap": false, "domain": false, "tickWidth": 1.5, "tickSize": {"condition": {"test": "datum.value % 200 === 0", "value": -9}, "value": -6},
                     "title": "Raman shift (cm⁻¹)", "titleFontSize": 23, "titleFontWeight": "normal", "titleX": 387, "titleY": 47, "titleBaseline": "middle", "titleAlign": "center"}},
      "y": {"field": "y", "type": "quantitative", "scale": {"domain": [0, 721], "nice": false, "zero": false}, "axis": {"title": "Intensity (a.u.)", "ticks": false, "labels": false, "domain": true, "domainColor": "black", "domainWidth": 2, "titleFontSize": 22, "titleFontWeight": "normal", "titlePadding": 12}},
      "detail": {"field": "s"}}},
    {"data": {"name": "bL_boxes"}, "mark": {"type": "rect", "fill": "white", "stroke": "black", "strokeWidth": 1.5},
     "encoding": {"x": {"field": "x1", "type": "quantitative", "scale": {"domain": [150, 1150], "nice": false, "zero": false}, "axis": null}, "x2": {"field": "x2"},
                  "y": {"field": "y1", "type": "quantitative", "scale": {"domain": [0, 721], "nice": false, "zero": false}, "axis": {"title": "Intensity (a.u.)", "ticks": false, "labels": false, "domain": true, "domainColor": "black", "domainWidth": 2, "titleFontSize": 22, "titleFontWeight": "normal", "titlePadding": 12}}, "y2": {"field": "y2"}}},
    {"data": {"name": "bL_boxes"}, "mark": {"type": "text", "fontWeight": "bold", "fontSize": 19},
     "encoding": {"x": {"field": "xc", "type": "quantitative", "scale": {"domain": [150, 1150], "nice": false, "zero": false}, "axis": null},
                  "y": {"field": "yc", "type": "quantitative", "scale": {"domain": [0, 721], "nice": false, "zero": false}, "axis": {"title": "Intensity (a.u.)", "ticks": false, "labels": false, "domain": true, "domainColor": "black", "domainWidth": 2, "titleFontSize": 22, "titleFontWeight": "normal", "titlePadding": 12}}, "text": {"field": "t"}}},
    {"data": {"name": "bL_letter"}, "mark": {"type": "rect", "fill": "white", "stroke": "black", "strokeWidth": 2},
     "encoding": {"x": {"field": "x1", "type": "quantitative", "scale": {"domain": [150, 1150], "nice": false, "zero": false}, "axis": null}, "x2": {"field": "x2"},
                  "y": {"field": "y1", "type": "quantitative", "scale": {"domain": [0, 721], "nice": false, "zero": false}, "axis": {"title": "Intensity (a.u.)", "ticks": false, "labels": false, "domain": true, "domainColor": "black", "domainWidth": 2, "titleFontSize": 22, "titleFontWeight": "normal", "titlePadding": 12}}, "y2": {"field": "y2"}}},
    {"data": {"name": "bL_letter"}, "mark": {"type": "text", "fontSize": 30},
     "encoding": {"x": {"field": "xc", "type": "quantitative", "scale": {"domain": [150, 1150], "nice": false, "zero": false}, "axis": null},
                  "y": {"field": "yc", "type": "quantitative", "scale": {"domain": [0, 721], "nice": false, "zero": false}, "axis": {"title": "Intensity (a.u.)", "ticks": false, "labels": false, "domain": true, "domainColor": "black", "domainWidth": 2, "titleFontSize": 22, "titleFontWeight": "normal", "titlePadding": 12}}, "text": {"field": "t"}}},
    {"data": {"name": "bL_names"}, "mark": {"type": "text", "fontSize": 19},
     "encoding": {"x": {"field": "x", "type": "quantitative", "scale": {"domain": [150, 1150], "nice": false, "zero": false}, "axis": null},
                  "y": {"field": "y", "type": "quantitative", "scale": {"domain": [0, 721], "nice": false, "zero": false}, "axis": {"title": "Intensity (a.u.)", "ticks": false, "labels": false, "domain": true, "domainColor": "black", "domainWidth": 2, "titleFontSize": 22, "titleFontWeight": "normal", "titlePadding": 12}}, "text": {"field": "t"}}},
    {"data": {"name": "bL_subs"}, "mark": {"type": "text", "fontSize": 14},
     "encoding": {"x": {"field": "x", "type": "quantitative", "scale": {"domain": [150, 1150], "nice": false, "zero": false}, "axis": null},
                  "y": {"field": "y", "type": "quantitative", "scale": {"domain": [0, 721], "nice": false, "zero": false}, "axis": {"title": "Intensity (a.u.)", "ticks": false, "labels": false, "domain": true, "domainColor": "black", "domainWidth": 2, "titleFontSize": 22, "titleFontWeight": "normal", "titlePadding": 12}}, "text": {"field": "t"}}},
    {"data": {"name": "bL_peaks"}, "mark": {"type": "text", "fontSize": 14},
     "encoding": {"x": {"field": "x", "type": "quantitative", "scale": {"domain": [150, 1150], "nice": false, "zero": false}, "axis": null},
                  "y": {"field": "y", "type": "quantitative", "scale": {"domain": [0, 721], "nice": false, "zero": false}, "axis": {"title": "Intensity (a.u.)", "ticks": false, "labels": false, "domain": true, "domainColor": "black", "domainWidth": 2, "titleFontSize": 22, "titleFontWeight": "normal", "titlePadding": 12}}, "text": {"field": "t"}}}
   ]
  },
  {
   "width": 277, "height": 721,
   "resolve": {"axis": {"x": "independent"}},
   "layer": [
    {"data": {"name": "bR_rules"}, "mark": {"type": "rule", "color": "#c8c8c8", "strokeWidth": 5},
     "encoding": {
      "x": {"field": "x", "type": "quantitative", "scale": {"domain": [3600, 3720], "nice": false, "zero": false},
            "axis": {"orient": "top", "values": [3600,3610,3620,3630,3640,3650,3660,3670,3680,3690,3700,3710,3720], "labels": false, "title": null, "domain": false, "tickWidth": 1.5, "tickSize": {"condition": {"test": "datum.value % 40 === 0", "value": -9}, "value": -6}}},
      "y": {"field": "y1", "type": "quantitative", "scale": {"domain": [0, 721], "nice": false, "zero": false}, "axis": null},
      "y2": {"field": "y2"}}},
    {"data": {"name": "bR_lines"}, "mark": {"type": "line", "color": "#5a5a5a", "strokeWidth": 1, "clip": true},
     "encoding": {
      "x": {"field": "x", "type": "quantitative", "scale": {"domain": [3600, 3720], "nice": false, "zero": false},
            "axis": {"orient": "bottom", "values": [3600,3610,3620,3630,3640,3650,3660,3670,3680,3690,3700,3710,3720], "format": "d", "labelExpr": "datum.value % 40 === 0 ? datum.label : ''", "labelFontSize": 18, "labelPadding": 16, "labelFlush": false, "labelOverlap": false, "domain": false, "tickWidth": 1.5, "tickSize": {"condition": {"test": "datum.value % 40 === 0", "value": -9}, "value": -6}, "title": null}},
      "y": {"field": "y", "type": "quantitative", "scale": {"domain": [0, 721], "nice": false, "zero": false}, "axis": null},
      "detail": {"field": "s"}}},
    {"data": {"name": "bR_names"}, "mark": {"type": "text", "fontSize": 19},
     "encoding": {"x": {"field": "x", "type": "quantitative", "scale": {"domain": [3600, 3720], "nice": false, "zero": false}, "axis": null},
                  "y": {"field": "y", "type": "quantitative", "scale": {"domain": [0, 721], "nice": false, "zero": false}, "axis": null}, "text": {"field": "t"}}},
    {"data": {"name": "bR_T"}, "mark": {"type": "text", "fontSize": 15, "align": "left"},
     "encoding": {"x": {"field": "x", "type": "quantitative", "scale": {"domain": [3600, 3720], "nice": false, "zero": false}, "axis": null},
                  "y": {"field": "y", "type": "quantitative", "scale": {"domain": [0, 721], "nice": false, "zero": false}, "axis": null}, "text": {"value": "T"}}},
    {"data": {"name": "bR_T"}, "mark": {"type": "text", "fontSize": 10, "align": "left", "dx": 9, "dy": 5},
     "encoding": {"x": {"field": "x", "type": "quantitative", "scale": {"domain": [3600, 3720], "nice": false, "zero": false}, "axis": null},
                  "y": {"field": "y", "type": "quantitative", "scale": {"domain": [0, 721], "nice": false, "zero": false}, "axis": null}, "text": {"value": "max"}}},
    {"data": {"name": "bR_T"}, "mark": {"type": "text", "fontSize": 15, "align": "left", "dx": 28},
     "encoding": {"x": {"field": "x", "type": "quantitative", "scale": {"domain": [3600, 3720], "nice": false, "zero": false}, "axis": null},
                  "y": {"field": "y", "type": "quantitative", "scale": {"domain": [0, 721], "nice": false, "zero": false}, "axis": null}, "text": {"field": "v"}}},
    {"data": {"name": "bR_peaks"}, "mark": {"type": "text", "fontSize": 14},
     "encoding": {"x": {"field": "x", "type": "quantitative", "scale": {"domain": [3600, 3720], "nice": false, "zero": false}, "axis": null},
                  "y": {"field": "y", "type": "quantitative", "scale": {"domain": [0, 721], "nice": false, "zero": false}, "axis": null}, "text": {"field": "t"}}}
   ]
  },
  {
   "width": 477, "height": 351,
   "resolve": {"axis": {"x": "independent"}},
   "layer": [
    {"data": {"name": "cL_rules"}, "mark": {"type": "rule", "color": "#c8c8c8", "strokeWidth": 5},
     "encoding": {
      "x": {"field": "x", "type": "quantitative", "scale": {"domain": [150, 1150], "nice": false, "zero": false},
            "axis": {"orient": "top", "values": [150,200,250,300,350,400,450,500,550,600,650,700,750,800,850,900,950,1000,1050,1100,1150], "labels": false, "title": null, "domain": false, "tickWidth": 1.5, "tickSize": {"condition": {"test": "datum.value % 200 === 0", "value": -9}, "value": -6}}},
      "y": {"field": "y1", "type": "quantitative", "scale": {"domain": [0, 351], "nice": false, "zero": false}, "axis": {"title": "Intensity (a.u.)", "ticks": false, "labels": false, "domain": true, "domainColor": "black", "domainWidth": 2, "titleFontSize": 22, "titleFontWeight": "normal", "titlePadding": 12}},
      "y2": {"field": "y2"}}},
    {"data": {"name": "cL_lines"}, "mark": {"type": "line", "color": "#5a5a5a", "strokeWidth": 1, "clip": true},
     "encoding": {
      "x": {"field": "x", "type": "quantitative", "scale": {"domain": [150, 1150], "nice": false, "zero": false},
            "axis": {"orient": "bottom", "values": [150,200,250,300,350,400,450,500,550,600,650,700,750,800,850,900,950,1000,1050,1100,1150], "format": "d", "labelExpr": "datum.value % 200 === 0 ? datum.label : ''", "labelFontSize": 18, "labelPadding": 16, "labelFlush": false, "labelOverlap": false, "domain": false, "tickWidth": 1.5, "tickSize": {"condition": {"test": "datum.value % 200 === 0", "value": -9}, "value": -6},
                     "title": "Raman shift (cm⁻¹)", "titleFontSize": 23, "titleFontWeight": "normal", "titleX": 387, "titleY": 42, "titleBaseline": "middle", "titleAlign": "center"}},
      "y": {"field": "y", "type": "quantitative", "scale": {"domain": [0, 351], "nice": false, "zero": false}, "axis": {"title": "Intensity (a.u.)", "ticks": false, "labels": false, "domain": true, "domainColor": "black", "domainWidth": 2, "titleFontSize": 22, "titleFontWeight": "normal", "titlePadding": 12}},
      "detail": {"field": "s"}}},
    {"data": {"name": "cL_boxes"}, "mark": {"type": "rect", "fill": "white", "stroke": "black", "strokeWidth": 1.5},
     "encoding": {"x": {"field": "x1", "type": "quantitative", "scale": {"domain": [150, 1150], "nice": false, "zero": false}, "axis": null}, "x2": {"field": "x2"},
                  "y": {"field": "y1", "type": "quantitative", "scale": {"domain": [0, 351], "nice": false, "zero": false}, "axis": {"title": "Intensity (a.u.)", "ticks": false, "labels": false, "domain": true, "domainColor": "black", "domainWidth": 2, "titleFontSize": 22, "titleFontWeight": "normal", "titlePadding": 12}}, "y2": {"field": "y2"}}},
    {"data": {"name": "cL_boxes"}, "mark": {"type": "text", "fontWeight": "bold", "fontSize": 19},
     "encoding": {"x": {"field": "xc", "type": "quantitative", "scale": {"domain": [150, 1150], "nice": false, "zero": false}, "axis": null},
                  "y": {"field": "yc", "type": "quantitative", "scale": {"domain": [0, 351], "nice": false, "zero": false}, "axis": {"title": "Intensity (a.u.)", "ticks": false, "labels": false, "domain": true, "domainColor": "black", "domainWidth": 2, "titleFontSize": 22, "titleFontWeight": "normal", "titlePadding": 12}}, "text": {"field": "t"}}},
    {"data": {"name": "cL_letter"}, "mark": {"type": "rect", "fill": "white", "stroke": "black", "strokeWidth": 2},
     "encoding": {"x": {"field": "x1", "type": "quantitative", "scale": {"domain": [150, 1150], "nice": false, "zero": false}, "axis": null}, "x2": {"field": "x2"},
                  "y": {"field": "y1", "type": "quantitative", "scale": {"domain": [0, 351], "nice": false, "zero": false}, "axis": {"title": "Intensity (a.u.)", "ticks": false, "labels": false, "domain": true, "domainColor": "black", "domainWidth": 2, "titleFontSize": 22, "titleFontWeight": "normal", "titlePadding": 12}}, "y2": {"field": "y2"}}},
    {"data": {"name": "cL_letter"}, "mark": {"type": "text", "fontSize": 30},
     "encoding": {"x": {"field": "xc", "type": "quantitative", "scale": {"domain": [150, 1150], "nice": false, "zero": false}, "axis": null},
                  "y": {"field": "yc", "type": "quantitative", "scale": {"domain": [0, 351], "nice": false, "zero": false}, "axis": {"title": "Intensity (a.u.)", "ticks": false, "labels": false, "domain": true, "domainColor": "black", "domainWidth": 2, "titleFontSize": 22, "titleFontWeight": "normal", "titlePadding": 12}}, "text": {"field": "t"}}},
    {"data": {"name": "cL_names"}, "mark": {"type": "text", "fontSize": 19},
     "encoding": {"x": {"field": "x", "type": "quantitative", "scale": {"domain": [150, 1150], "nice": false, "zero": false}, "axis": null},
                  "y": {"field": "y", "type": "quantitative", "scale": {"domain": [0, 351], "nice": false, "zero": false}, "axis": {"title": "Intensity (a.u.)", "ticks": false, "labels": false, "domain": true, "domainColor": "black", "domainWidth": 2, "titleFontSize": 22, "titleFontWeight": "normal", "titlePadding": 12}}, "text": {"field": "t"}}},
    {"data": {"name": "cL_subs"}, "mark": {"type": "text", "fontSize": 14},
     "encoding": {"x": {"field": "x", "type": "quantitative", "scale": {"domain": [150, 1150], "nice": false, "zero": false}, "axis": null},
                  "y": {"field": "y", "type": "quantitative", "scale": {"domain": [0, 351], "nice": false, "zero": false}, "axis": {"title": "Intensity (a.u.)", "ticks": false, "labels": false, "domain": true, "domainColor": "black", "domainWidth": 2, "titleFontSize": 22, "titleFontWeight": "normal", "titlePadding": 12}}, "text": {"field": "t"}}},
    {"data": {"name": "cL_peaks"}, "mark": {"type": "text", "fontSize": 14},
     "encoding": {"x": {"field": "x", "type": "quantitative", "scale": {"domain": [150, 1150], "nice": false, "zero": false}, "axis": null},
                  "y": {"field": "y", "type": "quantitative", "scale": {"domain": [0, 351], "nice": false, "zero": false}, "axis": {"title": "Intensity (a.u.)", "ticks": false, "labels": false, "domain": true, "domainColor": "black", "domainWidth": 2, "titleFontSize": 22, "titleFontWeight": "normal", "titlePadding": 12}}, "text": {"field": "t"}}}
   ]
  },
  {
   "width": 277, "height": 351,
   "resolve": {"axis": {"x": "independent"}},
   "layer": [
    {"data": {"name": "cR_rules"}, "mark": {"type": "rule", "color": "#c8c8c8", "strokeWidth": 5},
     "encoding": {
      "x": {"field": "x", "type": "quantitative", "scale": {"domain": [3600, 3720], "nice": false, "zero": false},
            "axis": {"orient": "top", "values": [3600,3610,3620,3630,3640,3650,3660,3670,3680,3690,3700,3710,3720], "labels": false, "title": null, "domain": false, "tickWidth": 1.5, "tickSize": {"condition": {"test": "datum.value % 40 === 0", "value": -9}, "value": -6}}},
      "y": {"field": "y1", "type": "quantitative", "scale": {"domain": [0, 351], "nice": false, "zero": false}, "axis": null},
      "y2": {"field": "y2"}}},
    {"data": {"name": "cR_lines"}, "mark": {"type": "line", "color": "#5a5a5a", "strokeWidth": 1, "clip": true},
     "encoding": {
      "x": {"field": "x", "type": "quantitative", "scale": {"domain": [3600, 3720], "nice": false, "zero": false},
            "axis": {"orient": "bottom", "values": [3600,3610,3620,3630,3640,3650,3660,3670,3680,3690,3700,3710,3720], "format": "d", "labelExpr": "datum.value % 40 === 0 ? datum.label : ''", "labelFontSize": 18, "labelPadding": 16, "labelFlush": false, "labelOverlap": false, "domain": false, "tickWidth": 1.5, "tickSize": {"condition": {"test": "datum.value % 40 === 0", "value": -9}, "value": -6}, "title": null}},
      "y": {"field": "y", "type": "quantitative", "scale": {"domain": [0, 351], "nice": false, "zero": false}, "axis": null},
      "detail": {"field": "s"}}},
    {"data": {"name": "cR_names"}, "mark": {"type": "text", "fontSize": 19},
     "encoding": {"x": {"field": "x", "type": "quantitative", "scale": {"domain": [3600, 3720], "nice": false, "zero": false}, "axis": null},
                  "y": {"field": "y", "type": "quantitative", "scale": {"domain": [0, 351], "nice": false, "zero": false}, "axis": null}, "text": {"field": "t"}}},
    {"data": {"name": "cR_T"}, "mark": {"type": "text", "fontSize": 15, "align": "left"},
     "encoding": {"x": {"field": "x", "type": "quantitative", "scale": {"domain": [3600, 3720], "nice": false, "zero": false}, "axis": null},
                  "y": {"field": "y", "type": "quantitative", "scale": {"domain": [0, 351], "nice": false, "zero": false}, "axis": null}, "text": {"value": "T"}}},
    {"data": {"name": "cR_T"}, "mark": {"type": "text", "fontSize": 10, "align": "left", "dx": 9, "dy": 5},
     "encoding": {"x": {"field": "x", "type": "quantitative", "scale": {"domain": [3600, 3720], "nice": false, "zero": false}, "axis": null},
                  "y": {"field": "y", "type": "quantitative", "scale": {"domain": [0, 351], "nice": false, "zero": false}, "axis": null}, "text": {"value": "max"}}},
    {"data": {"name": "cR_T"}, "mark": {"type": "text", "fontSize": 15, "align": "left", "dx": 28},
     "encoding": {"x": {"field": "x", "type": "quantitative", "scale": {"domain": [3600, 3720], "nice": false, "zero": false}, "axis": null},
                  "y": {"field": "y", "type": "quantitative", "scale": {"domain": [0, 351], "nice": false, "zero": false}, "axis": null}, "text": {"field": "v"}}},
    {"data": {"name": "cR_peaks"}, "mark": {"type": "text", "fontSize": 14},
     "encoding": {"x": {"field": "x", "type": "quantitative", "scale": {"domain": [3600, 3720], "nice": false, "zero": false}, "axis": null},
                  "y": {"field": "y", "type": "quantitative", "scale": {"domain": [0, 351], "nice": false, "zero": false}, "axis": null}, "text": {"field": "t"}}}
   ]
  }
]
}
